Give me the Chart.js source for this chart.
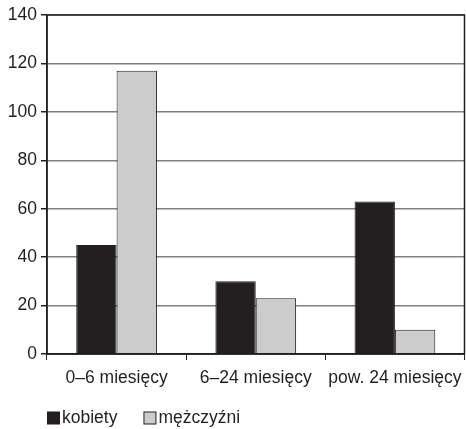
<!DOCTYPE html>
<html><head><meta charset="utf-8">
<script src="https://cdn.jsdelivr.net/npm/chart.js@4"></script>
<style>html,body{margin:0;padding:0;background:#fff}#w{width:466px;height:429px}</style>
</head><body><div id="w"><canvas id="c"></canvas></div>
<script>
const categories = ["0–6 miesięcy", "6–24 miesięcy", "pow. 24 miesięcy"];
const kobiety = [45, 30, 63];
const mezczyzni = [117, 23, 10];
const seriesNames = ["kobiety", "mężczyźni"];
const yTicks = [0, 20, 40, 60, 80, 100, 120, 140];

const FONT = '"Liberation Sans", Arial, sans-serif';
const FS = 17.5;

const frame = {
  id: 'frame',
  afterDatasetsDraw(chart) {
    const a = chart.chartArea, ctx = chart.ctx;
    ctx.save();
    ctx.strokeStyle = '#231f20';
    ctx.lineWidth = 1.5;
    ctx.strokeRect(a.left, a.top, a.right - a.left, a.bottom - a.top);
    ctx.restore();
  }
};

const bottomLegend = {
  id: 'bottomLegend',
  afterDraw(chart) {
    const ctx = chart.ctx;
    const y = 418;
    let x = chart.chartArea.left;
    ctx.save();
    ctx.font = FS + 'px ' + FONT;
    ctx.textBaseline = 'middle';
    chart.data.datasets.forEach(ds => {
      ctx.fillStyle = ds.backgroundColor;
      ctx.fillRect(x + 0.5, y - 6, 12, 12);
      ctx.strokeStyle = '#231f20';
      ctx.lineWidth = 1;
      ctx.strokeRect(x + 0.5, y - 6, 12, 12);
      ctx.fillStyle = '#231f20';
      ctx.fillText(ds.label, x + 15, y);
      x += 15 + ctx.measureText(ds.label).width + 26;
    });
    ctx.restore();
  }
};

Chart.defaults.font.family = FONT;
Chart.defaults.color = '#231f20';

new Chart(document.getElementById('c'), {
  type: 'bar',
  data: {
    labels: categories,
    datasets: [
      { label: seriesNames[0], data: kobiety, backgroundColor: '#231f20', borderColor: '#231f20', borderWidth: 1 },
      { label: seriesNames[1], data: mezczyzni, backgroundColor: '#cccccc', borderColor: '#231f20', borderWidth: 1 }
    ]
  },
  options: {
    responsive: true,
    maintainAspectRatio: false,
    animation: false,
    layout: { padding: { top: 15, right: 1.5, left: 0, bottom: 0 } },
    datasets: { bar: { categoryPercentage: 0.58, barPercentage: 1.0 } },
    plugins: {
      legend: { display: false },
      tooltip: { enabled: false }
    },
    scales: {
      x: {
        afterFit(s) { s.height = 75; s.paddingLeft = 0; s.paddingRight = 0; },
        grid: { display: true, offset: true, drawOnChartArea: false, drawTicks: true, tickLength: 6, color: '#231f20' },
        border: { display: true, color: '#231f20', width: 1.5 },
        ticks: { font: { size: FS }, color: '#231f20', padding: 8, maxRotation: 0, autoSkip: false }
      },
      y: {
        min: 0, max: 140,
        afterBuildTicks(axis) { axis.ticks = yTicks.map(v => ({ value: v })); },
        afterFit(s) { s.width = 47; s.paddingTop = 0; s.paddingBottom = 0; },
        grid: { color: '#808080', lineWidth: 1.5, tickLength: 6, tickColor: '#231f20' },
        border: { display: true, color: '#231f20', width: 1.5 },
        ticks: { font: { size: FS }, color: '#231f20', padding: 4 }
      }
    }
  },
  plugins: [frame, bottomLegend]
});
</script></body></html>
